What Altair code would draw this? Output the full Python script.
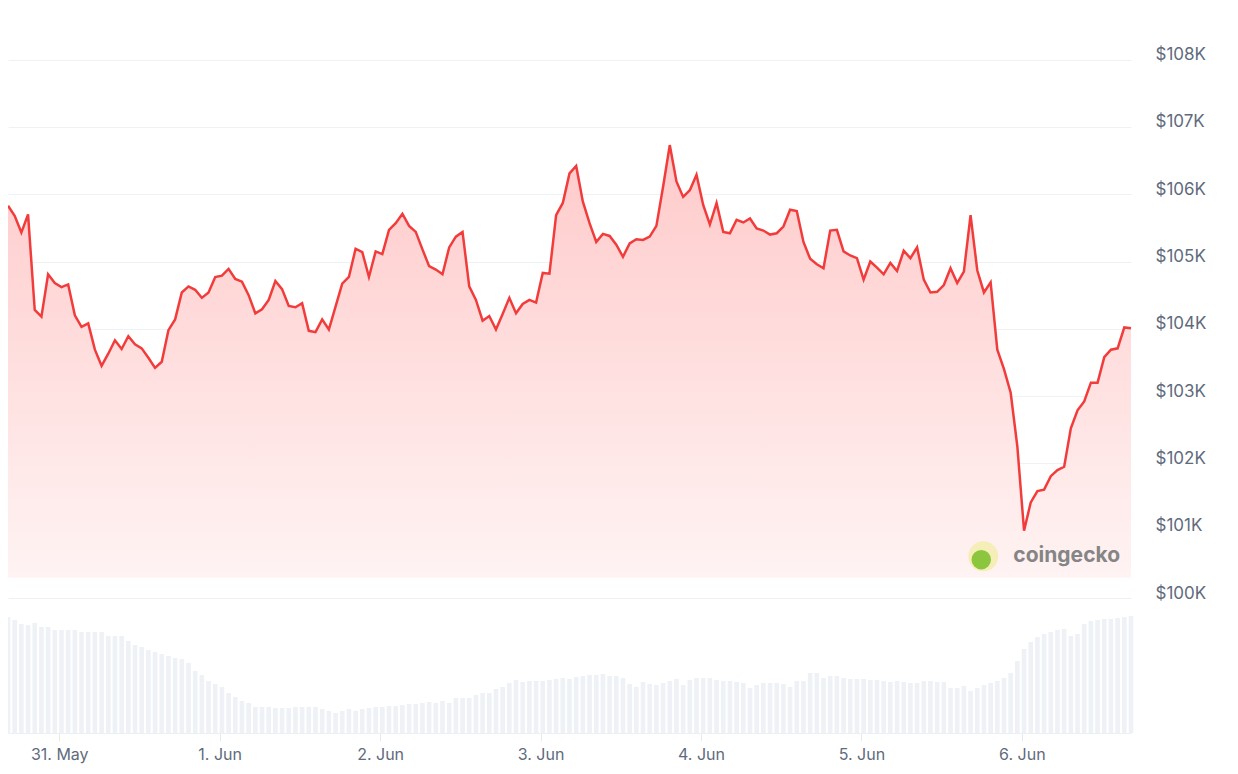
import altair as alt
import pandas as pd
from datetime import datetime, timedelta

# Hourly BTC price (in $K)
prices_k = [
    105.83, 105.68, 105.43, 105.70, 104.28, 104.18, 104.81, 104.68, 104.62, 104.66,
    104.20, 104.03, 104.08, 103.69, 103.45, 103.63, 103.83, 103.70, 103.89, 103.77,
    103.71, 103.57, 103.42, 103.51, 103.98, 104.14, 104.54, 104.63,
    104.58, 104.46, 104.54, 104.77, 104.79, 104.89, 104.74, 104.70, 104.50, 104.23,
    104.29, 104.43, 104.71, 104.59, 104.34, 104.32, 104.38, 103.97, 103.95, 104.14,
    103.99, 104.33, 104.67, 104.77, 105.19, 105.14, 104.77, 105.15,
    105.11, 105.47, 105.57, 105.71, 105.53, 105.44, 105.18, 104.93, 104.88, 104.81,
    105.21, 105.37, 105.44, 104.63, 104.43, 104.12, 104.19, 103.99, 104.22, 104.46,
    104.23, 104.37, 104.43, 104.39, 104.83, 104.82, 105.69,
    105.87, 106.31, 106.42, 105.89, 105.57, 105.29, 105.41, 105.38, 105.25, 105.07,
    105.27, 105.33, 105.32, 105.37, 105.53, 106.11, 106.73, 106.19, 105.96, 106.06,
    106.29, 105.84, 105.55, 105.87, 105.44, 105.42, 105.62, 105.58,
    105.64, 105.49, 105.46, 105.40, 105.42, 105.52, 105.77, 105.75, 105.29, 105.04,
    104.96, 104.90, 105.46, 105.47, 105.15, 105.09, 105.05, 104.73, 105.00, 104.91,
    104.81, 104.98, 104.86, 105.16, 105.05, 105.21, 104.73, 104.54, 104.55, 104.65,
    104.90,
    104.68, 104.85, 105.69, 104.87, 104.54, 104.69, 103.69, 103.40, 103.05, 102.25,
    101.00, 101.42, 101.59, 101.61, 101.81, 101.90, 101.95, 102.52, 102.79, 102.92,
    103.20, 103.20, 103.58, 103.69, 103.71, 104.02, 104.01,
]

# Hourly traded volume (relative units)
volumes = [
    116, 113, 109, 108, 110, 106, 106, 103, 103, 103, 103, 101, 101, 101,
    101, 97, 97, 97, 92, 88, 86, 83, 81, 79, 77, 75, 74, 70,
    62, 58, 52, 49, 46, 40, 36, 32, 30,
    26, 26, 26, 25, 25, 25, 26, 26, 26, 26, 24, 22,
    20, 22, 24, 22, 24, 25, 26, 26, 27, 27,
    28, 29, 29, 30, 31, 30, 32, 30, 35, 35, 35, 38, 40, 40,
    44, 46, 50, 53, 51, 52, 52, 52, 53, 54, 55, 54, 56, 57, 58, 58,
    59, 57, 57, 55, 49, 46, 51, 49, 48, 50, 52,
    54, 48, 53, 55, 55, 55, 53, 52, 52, 51, 50, 45,
    48, 50, 50, 50, 49, 46, 52, 52, 60, 60, 55, 57, 57, 55, 54, 54,
    54, 53, 53, 52, 51, 52, 51, 50, 50, 52, 52, 51,
    51, 45, 45, 47, 42, 45, 48, 50, 52,
    55, 60, 72, 84, 91, 96, 99, 101, 103, 104, 97, 99, 109,
    112, 113, 114, 114, 115, 116, 117,
]

price_ticks = [100000, 101000, 102000, 103000, 104000, 105000, 106000, 107000, 108000]

start = datetime(2025, 5, 30, 16, 20)
times = [(start + timedelta(hours=i)).strftime("%Y-%m-%dT%H:%M:%SZ") for i in range(len(prices_k))]

df = pd.DataFrame({"time": times, "price": [p * 1000 for p in prices_k], "volume": volumes})

# watermark anchor (data coordinates)
wm_logo = pd.DataFrame({
    "time": [(start + timedelta(hours=145.9)).strftime("%Y-%m-%dT%H:%M:%SZ")],
    "price": [100620],
})
wm_head = pd.DataFrame({
    "time": [(start + timedelta(hours=145.6)).strftime("%Y-%m-%dT%H:%M:%SZ")],
    "price": [100570],
})
wm_text = pd.DataFrame({
    "time": [(start + timedelta(hours=150.4)).strftime("%Y-%m-%dT%H:%M:%SZ")],
    "price": [100620],
    "label": ["coingecko"],
})

LABEL_COLOR = "#5f6b7c"
FONT = "Inter"

x_enc = alt.X(
    "time:T",
    scale=alt.Scale(type="utc", nice=False, padding=0),
    axis=alt.Axis(
        labelExpr="utcFormat(datum.value, '%-d. %b')",
        tickCount=alt.TimeIntervalStep(interval="day", step=1),
        grid=False,
        domainColor="#eceff3",
        tickColor="#e6e9ee",
        tickSize=8,
        labelPadding=5,
        labelFont=FONT,
        labelFontSize=16,
        labelColor=LABEL_COLOR,
        labelFlush=False,
        title=None,
    ),
)

price_scale = alt.Scale(domain=[97994, 108767], nice=False, zero=False)
price_axis = alt.Axis(
    orient="right",
    values=price_ticks,
    labelExpr="'$' + format(datum.value / 1000, 'd') + 'K'",
    grid=True,
    gridColor="#eff2f5",
    gridWidth=1,
    domain=False,
    ticks=False,
    labelPadding=24,
    labelFont=FONT,
    labelFontSize=17,
    labelColor=LABEL_COLOR,
    labelBaseline="bottom",
    labelOffset=4,
    title=None,
)

area = alt.Chart(df).mark_area(
    color=alt.Gradient(
        gradient="linear",
        stops=[
            alt.GradientStop(color="#fff3f3", offset=0),
            alt.GradientStop(color="#ffcaca", offset=1),
        ],
        x1=1, x2=1, y1=1, y2=0,
    )
).encode(
    x=x_enc,
    y=alt.Y("price:Q", scale=price_scale, axis=price_axis),
    y2=alt.datum(100300),
)

line = alt.Chart(df).mark_line(color="#f23c3c", strokeWidth=2.5).encode(
    x="time:T",
    y=alt.Y("price:Q"),
)

logo = alt.Chart(wm_logo).mark_circle(size=900, color="#f5eeb8", opacity=1).encode(
    x="time:T", y="price:Q"
)
head = alt.Chart(wm_head).mark_circle(size=380, color="#8cc63f", opacity=1).encode(
    x="time:T", y="price:Q"
)
text = alt.Chart(wm_text).mark_text(
    font=FONT, fontSize=21, fontWeight="bold", color="#858585",
    align="left", baseline="middle",
).encode(x="time:T", y="price:Q", text="label:N")

price_layer = alt.layer(area, line, logo, head, text)

bars = alt.Chart(df).mark_bar(color="#eef1f5", width=4.6).encode(
    x=x_enc,
    y=alt.Y("volume:Q", scale=alt.Scale(domain=[0, 725], nice=False), axis=None),
)

chart = (
    alt.layer(bars, price_layer)
    .resolve_scale(y="independent")
    .properties(
        width=1123,
        height=725,
        autosize=alt.AutoSizeParams(type="none"),
        padding={"left": 0, "top": 0, "right": 95, "bottom": 38},
        background="white",
    )
    .configure_view(stroke=None)
)

chart.save("out.html", embed_options={"renderer": "svg", "actions": False})
